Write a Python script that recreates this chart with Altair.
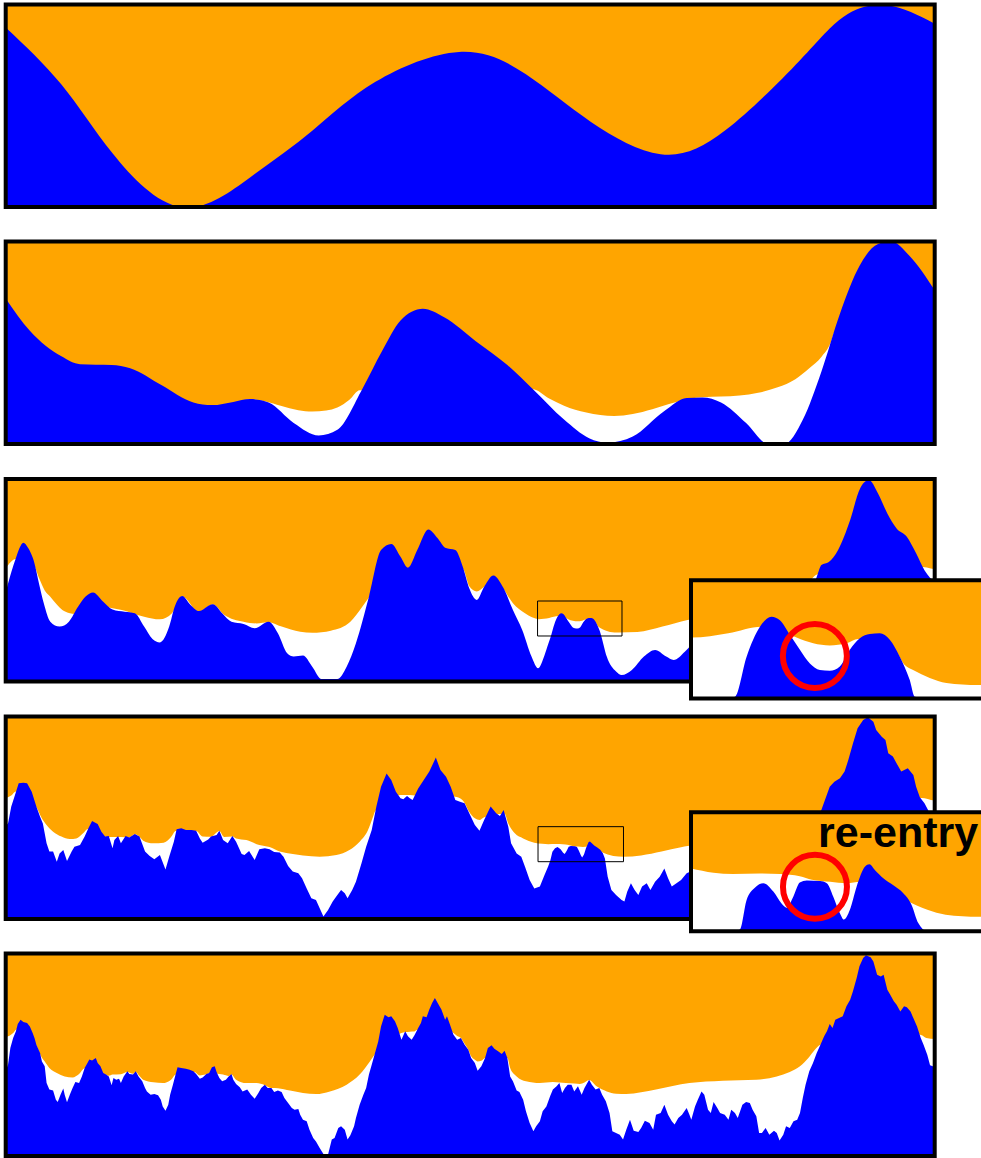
import altair as alt
import pandas as pd

# Five successive refinements of one terrain section.
# Each profile is (distance along section 0-100, elevation 0-100).
# "surface" is the terrain, "level" is the lower edge of the filled region above it.

surface_1 = [
    (0, 88.7), (6, 60.5), (11.5, 26.5), (18.8, -3), (26.3, 14.6), (33, 37.7), (39.8, 61.8), (48.8, 76.6),
    (56, 65.5), (63, 42), (70.5, 26.1), (77.5, 38), (85.5, 72.5), (90.2, 94), (94.9, 99.6), (100, 90.5),
]

surface_2 = [
    (0, 71.9), (2.6, 55.9), (6, 43.3), (8, 39.4), (11.4, 39), (13.4, 37.4), (16.8, 29), (20.2, 20.5),
    (22.2, 19.2), (24.5, 20.8), (26.3, 22.2), (28.3, 20.5), (31, 10.4), (33.7, 4.2), (35.7, 7),
    (38.4, 27.3), (40.5, 45.8), (42.5, 61), (44.9, 66.8), (47.2, 62.6), (50.6, 50.8), (54, 39),
    (56.7, 27.3), (60.1, 12.1), (62.8, 2.9), (64.8, 0.7), (67.5, 3.7), (70.9, 16.3), (73.3, 22.7),
    (75, 23), (77, 20.5), (79.7, 10.4), (82.1, 0), (83.8, 0), (85.8, 12), (87.8, 35.7), (89.8, 64.3),
    (91.9, 87.9), (93.9, 98.8), (95.3, 100), (97.3, 92.9), (100, 76),
]
level_2 = [
    (0, 60), (5, 40), (12, 32), (19, 17), (22.5, 17.5), (26.3, 22), (28, 21), (29.6, 18.9),
    (31.5, 16.7), (33, 16), (34.5, 16.5), (35.7, 18), (37, 21.8), (38.1, 26.5), (47, 27), (56.7, 27),
    (58.5, 22.5), (60.1, 18.9), (62.5, 15.5), (65.5, 13.8), (67.5, 14.8), (69.6, 17.2), (72, 20.5),
    (74.3, 22.8), (75, 23.1), (77, 23.4), (79, 23.9), (81, 25.3), (83.1, 28), (85, 32), (86.5, 37.4),
    (87.8, 43), (88.8, 50), (89.2, 55), (95, 60), (100, 70),
]

surface_3 = [
    (0, 44), (0.6, 54), (1.1, 61), (1.5, 66), (1.9, 68.5), (2.4, 66), (3.1, 58.3), (3.6, 48),
    (4.1, 38.6), (4.8, 29.5), (5.8, 27.1), (6.8, 29.5), (7.8, 37), (8.6, 42), (9.4, 44), (10.5, 39.4),
    (11.5, 35.6), (12.8, 34.5), (13.9, 33.7), (14.9, 27.1), (15.8, 21), (16.6, 19.3), (17.6, 27.1),
    (18.2, 37), (19.0, 42.2), (19.9, 37.8), (20.8, 34.8), (22.3, 38.1), (23.3, 33.7), (24.3, 29.5),
    (25.6, 28.4), (26.8, 26.3), (28.3, 29.5), (29.3, 23.8), (30.3, 13.9), (31, 12.3), (32, 12.8),
    (33, 7.3), (34, 1.2), (35.7, 1.2), (36.7, 7.3), (37.7, 18.9), (39.1, 41.9), (40.4, 64.9),
    (41.5, 67.9), (42.5, 61.6), (43.3, 56.2), (44.3, 64.9), (45.5, 75.1), (46.5, 70.7), (47.3, 66.1),
    (48.4, 64.9), (49.2, 56.7), (49.9, 46), (50.7, 40.3), (51.5, 46.8), (52.5, 52.4), (53.6, 46),
    (54.6, 35.3), (55.6, 25.4), (56.6, 12.3), (57.3, 6.5), (58.0, 13), (58.4, 18.5), (58.7, 22.6),
    (59.05, 28.15), (59.45, 32.3), (59.8, 33.7), (60.05, 33.2), (60.35, 31.2), (60.65, 29.1),
    (60.95, 27.2), (61.25, 26.3), (61.55, 26.2), (61.85, 26.8), (62.15, 29.1), (62.45, 30.7),
    (62.75, 31.3), (63.05, 31.4), (63.35, 30.5), (63.65, 28.15), (63.95, 24.9), (64.1, 22.6),
    (64.7, 12.3), (65.7, 4.9), (66.3, 3.2), (67.4, 5.7), (68.7, 12.3), (69.9, 15.6), (71.1, 12.3),
    (71.9, 10.6), (73.1, 14.7), (74.5, 22), (75.5, 27), (76.5, 22), (78, 17), (79.5, 24), (81, 13),
    (82.5, 10), (83.7, 8), (85, 17), (86, 32), (86.8, 45), (87.4, 53), (87.8, 57.5), (88.6, 59),
    (89.6, 65), (90.9, 79.8), (91.9, 94.6), (92.9, 99.5), (93.9, 92.9), (94.9, 83), (95.9, 75.6),
    (97, 71.5), (98, 63.3), (98.9, 55), (100, 49),
]
level_3 = [
    (0, 55.9), (1.1, 60.5), (3.0, 57.5), (3.6, 51), (4.2, 45), (4.8, 41.9), (5.5, 38), (6.1, 35.3),
    (6.8, 33.8), (7.5, 33.3), (8.3, 35.5), (9.0, 40), (9.4, 43.6), (10.8, 37), (12.5, 35.3),
    (14.9, 32), (16.6, 30.7), (17.9, 33.7), (19.0, 42), (20.8, 34.5), (22.3, 38), (23.5, 33),
    (25.6, 29.5), (27, 28.7), (28.3, 29.3), (29.7, 27.1), (31.7, 24.6), (33, 24.1), (35, 25.1),
    (37.1, 29.5), (38.4, 37), (39.1, 41.5), (43.3, 55.5), (49.2, 55.5), (49.9, 47), (50.7, 44.5),
    (51.5, 46.8), (52.5, 52), (53.6, 45.5), (54.6, 38.6), (55.9, 33.7), (57.4, 30.8), (58.5, 31.4),
    (59.5, 32.3), (60.3, 31.3), (60.55, 30.8), (61.05, 30.0), (61.55, 29.7), (62.05, 30.0),
    (62.4, 30.6), (63.5, 29.0), (63.8, 27.0), (64.05, 26.3), (64.55, 25.2), (65.05, 24.5),
    (66.0, 24.2), (68, 24.4), (70.7, 27.1), (73.4, 30.4), (76, 32), (79, 33.5), (82, 36), (84, 40),
    (85.5, 45), (86.6, 50), (87.4, 53), (98.3, 56.7), (100, 55.4),
]

surface_4 = [
    (0, 46), (0.25, 47.2), (0.6, 55.5), (1.0, 61.2), (1.4, 67), (1.9, 67.3), (2.3, 67), (2.8, 62.9),
    (3.3, 55.5), (3.7, 50.5), (4.0, 47.2), (4.4, 37.4), (4.7, 33.3), (5.1, 33.3), (5.5, 28.3),
    (5.8, 32.4), (6.2, 34.1), (6.6, 28.6), (7.1, 33.3), (7.4, 35.7), (8.0, 36.5), (8.5, 40.7),
    (8.9, 44.8), (9.3, 48.4), (9.9, 46.9), (10.3, 43.1), (10.7, 40.7), (11.1, 41), (11.5, 34.9),
    (11.7, 39), (12.1, 41), (12.4, 37.4), (12.9, 41), (13.3, 40.3), (13.9, 42), (14.4, 40.7),
    (15.0, 33.3), (15.5, 31.1), (16.0, 29.5), (16.6, 31.6), (17.2, 24.5), (17.6, 30.8), (18.1, 38.2),
    (18.4, 44.3), (18.9, 44.8), (19.4, 44), (20.0, 44), (20.5, 43.6), (20.9, 39.8), (21.2, 37.7),
    (21.8, 39.3), (22.1, 40.7), (22.7, 41.5), (23.0, 43.6), (23.4, 39), (23.9, 37.4), (24.4, 41),
    (24.8, 38.2), (25.4, 32.1), (25.7, 31.6), (26.2, 33.6), (26.8, 29.1), (27.3, 34.4), (27.9, 34.9),
    (28.4, 34.4), (28.9, 33.1), (29.5, 32.8), (29.9, 30.8), (30.4, 26.2), (30.9, 23.4), (31.5, 22.6),
    (31.9, 20.1), (32.4, 15.1), (32.9, 10.2), (33.4, 9.4), (33.8, 5.3), (34.2, 1.2), (34.7, 4.4),
    (35.2, 8.6), (35.7, 11.9), (36.1, 14.3), (36.5, 12.7), (36.8, 10.2), (37.3, 14.3), (37.7, 18.4),
    (38.3, 27.5), (38.8, 35.7), (39.4, 43.9), (39.9, 55.5), (40.4, 65.3), (41.0, 71.9), (41.5, 68.6),
    (42.0, 62.9), (42.5, 59.6), (42.8, 59.1), (43.2, 60.7), (43.5, 59.6), (43.8, 58.8), (44.4, 64.5),
    (45.0, 68.6), (45.6, 72.8), (46.3, 79.7), (46.8, 73.6), (47.4, 70.3), (47.9, 65.3), (48.4, 58.8),
    (48.9, 57.9), (49.4, 57.1), (49.9, 52.2), (50.5, 46.4), (51.0, 43.6), (51.5, 48.9), (52.2, 55.5),
    (52.8, 52.2), (53.2, 50.9), (53.6, 53.8), (54.1, 45.6), (54.4, 37.4), (55.0, 32.4), (55.5, 30.8),
    (55.9, 25.8), (56.4, 19.3), (56.9, 15.1), (57.5, 16), (58.0, 21.7), (58.4, 26), (58.63, 29),
    (58.85, 33.2), (59.13, 35.0), (59.4, 35.6), (59.73, 34.4), (60.0, 32.7), (60.17, 32.1),
    (60.39, 33.7), (60.6, 35.7), (60.83, 36.0), (61.27, 35.9), (61.49, 35.6), (61.7, 33.7),
    (61.92, 31.3), (62.05, 30.4), (62.25, 31.8), (62.47, 35.1), (62.75, 38.0), (62.89, 38.3),
    (63.07, 37.5), (63.35, 36.3), (63.68, 35.3), (64.0, 34.2), (64.28, 32.5), (64.5, 29.9),
    (64.8, 20.9), (65.2, 14.3), (65.7, 11.9), (66.3, 9.4), (66.6, 8.6), (66.9, 13.5), (67.3, 17.6),
    (67.7, 14.3), (68.1, 11.9), (68.5, 16), (69.0, 17.6), (69.4, 14.3), (69.9, 18.4), (70.4, 20.9),
    (70.9, 25), (71.3, 20.1), (71.7, 16), (72.2, 17.6), (72.7, 19.3), (73.3, 22.6), (74.2, 24.5),
    (74.9, 31), (75.6, 23), (76.2, 26), (77.4, 20), (78.1, 22), (79.5, 25), (80.4, 22), (81.1, 12),
    (82.2, 11), (83.3, 8), (84.4, 14), (85.5, 21), (86.5, 40), (87.3, 50), (87.8, 53.8), (88.7, 65.3),
    (89.2, 67.8), (89.8, 69.5), (90.3, 72.8), (90.7, 78.5), (91.2, 86.7), (91.7, 94.2), (92.3, 98.3),
    (92.8, 99.6), (93.4, 97.4), (93.7, 93.3), (94.3, 90), (94.7, 88.4), (95.0, 81.8), (95.5, 80.2),
    (96.0, 76), (96.4, 72.8), (97.1, 74.4), (97.7, 71.1), (98.0, 65.3), (98.4, 60.1), (98.9, 57.1),
    (99.5, 52), (100, 48),
]
level_4 = [
    (0, 59.6), (0.6, 61), (1.1, 63), (3.3, 55.3), (3.8, 50.5), (4.4, 46.4), (5.1, 43.1), (6.0, 40.7),
    (6.9, 39.5), (7.6, 39.8), (8.3, 42.2), (8.9, 44.6), (10.7, 40.6), (11.5, 40.5), (12.4, 40.5),
    (13.3, 40.3), (13.9, 41.8), (14.4, 40.6), (14.8, 38.7), (15.9, 37.4), (17.0, 37.7), (17.8, 40.5),
    (18.3, 43.5), (20.5, 43.4), (21.2, 40.7), (22.1, 40.6), (23.0, 43.4), (23.5, 40.5), (24.4, 40.8),
    (24.8, 39.8), (25.9, 39), (27.3, 36.5), (28.4, 35.5), (29.5, 33.3), (30.9, 32.1), (32.0, 31.3),
    (33.8, 30.8), (35.6, 31.6), (37.0, 34.1), (38.1, 38.2), (39.0, 43.9), (39.5, 50), (39.8, 53.5),
    (42.2, 61), (42.8, 61.2), (43.5, 61.2), (44.05, 61), (48.2, 60.5), (48.9, 59.6), (49.4, 57.3),
    (49.9, 52.8), (50.5, 49.7), (51.0, 48.9), (51.5, 50.3), (53.7, 52), (54.1, 47.2), (54.8, 42.3),
    (55.7, 39.8), (56.9, 37.7), (57.76, 37.1), (58.4, 36.9), (59.3, 37.0), (59.95, 36.9),
    (60.6, 36.6), (61.0, 36.1), (61.6, 35.8), (62.14, 35.6), (62.6, 35.8), (63.46, 35.1),
    (64.1, 33.2), (64.8, 31.8), (65.4, 31.1), (66.5, 30.8), (68.4, 31.4), (70.6, 33.3), (72.7, 35.4),
    (73.4, 36), (77, 37.5), (80.8, 38), (83, 40), (84.4, 42), (85.5, 45), (86.4, 48.5), (87.1, 51.5),
    (87.8, 53), (88.5, 58), (98.4, 59.8), (98.9, 59.6), (99.6, 58.8), (100, 58.5),
]

surface_5 = [
    (0, 42), (0.25, 45.1), (0.5, 53.3), (0.8, 58.3), (1.1, 61.6), (1.3, 65.2), (1.6, 67.3), (1.9, 66.2),
    (2.3, 65.7), (2.6, 64), (2.9, 60.7), (3.1, 58.3), (3.3, 55), (3.7, 50.9), (3.9, 46.7), (4.2, 44.3),
    (4.4, 36), (4.7, 32.8), (5.1, 32.3), (5.4, 27.8), (5.6, 26.7), (5.9, 30.3), (6.2, 33.3),
    (6.35, 30.3), (6.6, 26.5), (6.9, 30.3), (7.2, 33.6), (7.5, 36.5), (7.9, 36), (8.2, 39.3),
    (8.5, 43.5), (8.8, 45.9), (9.0, 47.6), (9.3, 47.1), (9.7, 48.4), (9.9, 45.9), (10.2, 44.3),
    (10.5, 41), (10.8, 40.2), (11.1, 39.3), (11.4, 34.9), (11.6, 38.5), (11.9, 37.7), (12.2, 38.2),
    (12.4, 36), (12.7, 39.3), (13.1, 41.8), (13.3, 40.5), (13.7, 40.2), (14.0, 41.8), (14.3, 39.3),
    (14.7, 36.9), (15.0, 33.6), (15.2, 31.9), (15.6, 30.3), (16.0, 30.6), (16.4, 30), (16.7, 27.8),
    (16.9, 24.5), (17.2, 22.4), (17.5, 25.3), (17.7, 30.3), (18.0, 35.2), (18.3, 40.5), (18.5, 43.8),
    (18.9, 43.5), (19.4, 43.1), (19.8, 42.6), (20.2, 41.8), (20.5, 40.5), (20.9, 38.2), (21.2, 38.8),
    (21.6, 40.5), (21.9, 41), (22.2, 43.8), (22.5, 44.3), (22.7, 41.5), (23.0, 38.5), (23.3, 36.9),
    (23.7, 37.7), (24.0, 39.3), (24.3, 40.5), (24.5, 37.7), (24.8, 35.6), (25.2, 33.9), (25.5, 31.9),
    (26.0, 32.8), (26.4, 30.3), (26.8, 28.3), (27.2, 31.1), (27.5, 33.6), (27.9, 35.2), (28.2, 33.6),
    (28.6, 33.6), (28.9, 31.6), (29.3, 32.3), (29.7, 31.6), (30.0, 28.6), (30.4, 26.2), (30.8, 23.7),
    (31.1, 22.9), (31.5, 23.2), (31.7, 20.4), (32.0, 17.9), (32.4, 17.1), (32.7, 13),
    (33.1, 8.9), (33.4, 7.2), (33.8, 4), (34.2, 1), (34.7, 0.7), (35.1, 8.1), (35.4, 8.9),
    (35.8, 13.8), (36.1, 14.7), (36.5, 13), (36.8, 8.1), (37.1, 10.2), (37.5, 14.7), (37.7, 18.8),
    (38.1, 25.3), (38.5, 30.3), (38.8, 33.6), (39.1, 40.2), (39.4, 45.1), (39.7, 50), (40.1, 56.6),
    (40.4, 64), (40.8, 69.8), (41.2, 68.5), (41.5, 69), (41.9, 66.5), (42.2, 63.2), (42.6, 57.4),
    (43.0, 61.6), (43.3, 59.1), (43.7, 57.4), (44.0, 59.6), (44.4, 63.2), (44.7, 65.7), (44.9, 69),
    (45.3, 68.5), (45.6, 72.3), (45.9, 75.6), (46.2, 78), (46.5, 75.6), (46.9, 72.3), (47.3, 67.3),
    (47.5, 69), (47.8, 65.2), (48.2, 59.9), (48.6, 57.4), (49.0, 58.3), (49.4, 55), (49.8, 52.5),
    (50.1, 48.4), (50.5, 45.9), (50.8, 42.1), (51.2, 44.3), (51.6, 48.4), (51.9, 53.3), (52.3, 54.7),
    (52.6, 53), (53.0, 51.7), (53.4, 50.4), (53.7, 52), (54.0, 48.4), (54.3, 39.3), (54.6, 36.9),
    (55.0, 32.3), (55.3, 31.6), (55.7, 27.8), (56.0, 22.1), (56.4, 16.3), (56.8, 12.2), (57.1, 14.7),
    (57.5, 17.1), (57.8, 22.1), (58.2, 24.5), (58.6, 29.5), (58.9, 32.8), (59.3, 34.4), (59.6, 36),
    (59.9, 31.1), (60.2, 33.6), (60.5, 35.2), (60.9, 35.2), (61.2, 31.9), (61.6, 34.4), (62.0, 30.3),
    (62.3, 33.6), (62.8, 37.7), (63.1, 35.2), (63.5, 32.8), (63.9, 33.6), (64.2, 30.3), (64.6, 27),
    (65.0, 21.2), (65.3, 12.2), (65.7, 11.4), (66.1, 10.5),
    (66.45, 8.1), (66.8, 13), (67.2, 17.9), (67.6, 12.5), (68.1, 11.9), (68.4, 13.8), (68.8, 17.4),
    (69.3, 16.3), (69.7, 13), (70.0, 20.4), (70.5, 21.2), (70.9, 25.3), (71.3, 20.4), (71.7, 17.1),
    (72.0, 15.5), (72.4, 18.8), (72.8, 20.4), (73.3, 23.7), (73.6, 20.4), (73.8, 17.9), (74.2, 24.5),
    (74.5, 27.8), (74.9, 31.9), (75.2, 30.3), (75.6, 22.9), (75.9, 21.2), (76.2, 26.7), (76.6, 23.7),
    (76.9, 21.2), (77.4, 20.4), (77.8, 17.9), (78.1, 22.9), (78.5, 21.2), (78.8, 18.8), (79.3, 25.3),
    (79.7, 26.7), (80.1, 26.2), (80.4, 22.9), (80.8, 19.6), (81.1, 11.4), (81.4, 11.4), (81.8, 13.8),
    (82.2, 10.5), (82.7, 12.5), (83.0, 11.4), (83.3, 7.6), (83.7, 10.5), (84.0, 14.7), (84.4, 13.8),
    (84.8, 17.1), (85.2, 17.9), (85.5, 21.2), (85.8, 28.6), (86.1, 35.2), (86.5, 41.8), (86.9, 45.9),
    (87.3, 50.9), (87.7, 55), (88.1, 59.1), (88.4, 61.6), (88.7, 65.2), (89.0, 63.2), (89.3, 67.3),
    (89.7, 68.1), (90.1, 69), (90.5, 73.9), (90.9, 77.2), (91.2, 81.3), (91.6, 87.9), (91.9, 93.7),
    (92.3, 97.8), (92.6, 99.1), (93.1, 98.1), (93.4, 96.1), (93.8, 89.5), (94.2, 88.7), (94.5, 89.5),
    (94.9, 82.1), (95.2, 79.7), (95.6, 76.4), (95.9, 74.7), (96.3, 71.4), (96.7, 73.9), (97.0, 73.4),
    (97.4, 71.4), (97.7, 68.1), (98.1, 64), (98.5, 58.3), (98.8, 55), (99.2, 50), (99.5, 44.8),
    (100, 44),
]
level_5 = [
    (0, 58.6), (0.8, 60.7), (1.15, 62.5), (3.3, 54.5), (3.5, 52.5), (3.9, 48.5), (4.2, 46.7),
    (4.7, 43.5), (5.5, 41), (6.35, 39.3), (7.2, 38.8), (7.9, 40.5), (8.5, 43.3), (10.5, 40.5),
    (11.1, 39.6), (11.5, 40.2), (12.4, 40.4), (13.1, 41.5), (13.7, 40.6), (14.0, 41.5), (14.4, 39.5),
    (14.8, 37.7), (15.9, 36.4), (16.9, 36), (17.8, 37.7), (18.3, 40.3), (20.3, 41.5), (20.9, 39.8),
    (21.5, 40.2), (22.0, 41), (23.0, 40.5), (23.4, 40.2), (24.0, 39.5), (24.3, 40.3), (24.8, 37.7),
    (25.9, 36), (27.0, 36), (27.9, 35), (28.6, 33.6), (29.3, 33.5), (30.6, 32.3), (32, 31.1),
    (33.4, 30.6), (34.9, 31.9), (36.7, 35.2), (38.1, 40.2), (39.2, 46.7), (39.7, 50), (42.2, 60),
    (42.6, 60.7), (43.0, 61.2), (43.5, 61.4), (44.0, 61.5), (44.3, 62.3), (47.8, 62), (48.2, 60.7),
    (48.6, 59.2), (49.0, 58.3), (49.4, 55.4), (49.8, 52.5), (50.1, 49.2), (50.5, 47.5), (50.8, 46.7),
    (51.2, 47), (51.6, 48.4), (54.0, 48.4), (54.3, 43.5), (55, 39.3), (56, 36.9), (57.5, 36),
    (58.9, 36.5), (59.6, 36.3), (60.3, 36), (61.2, 35.8), (61.8, 35.6), (62.3, 36.3), (62.8, 37.5),
    (63.6, 34.4), (64.7, 31.9), (65.7, 30.8), (66.8, 30.6), (70, 32.8), (73.6, 36), (77.2, 37.2),
    (80.8, 37.7), (83, 39.3), (84.4, 41.5), (85.5, 44.3), (86.4, 48.4), (87.1, 52.5), (87.7, 55),
    (98.3, 60), (98.6, 59.6), (99.1, 58.3), (100, 57.8),
]

# zoom windows (distance range, elevation range) and the spots they highlight
zoom_3 = {"x": [57.38, 66.66], "h": [22.34, 38.76], "marker_x": [57.25, 66.34], "marker_h": [22.47, 39.75]}
zoom_4 = {"x": [57.02, 67.19], "h": [28.73, 45.73], "marker_x": [57.3, 66.5], "marker_h": [28.3, 45.6]}
spot_3 = (61.1, 28.24)
spot_4 = (61.1, 35.1)
note_4 = (66.47, 40.81, "re-entry")

BLUE = "#0000ff"
ORANGE = "#ffa500"
RED = "#ff0000"

FRAME_X = [5.7, 934.7]
PANEL_Y = [[207.0, 4.5], [444.0, 241.5], [681.5, 479.0], [919.0, 716.5], [1156.0, 953.5]]
INSET_X = [691.0, 1000.0]
INSET_Y = {3: [698.5, 580.3], 4: [931.3, 812.3]}


def frame(pairs):
    return pd.DataFrame(pairs, columns=["x", "h"])


def window(df, lo, hi):
    inside = df[(df.x >= lo) & (df.x <= hi)]
    return pd.concat([df[df.x < lo].tail(1), inside, df[df.x > hi].head(1)])


def scale(domain, rng):
    return alt.Scale(domain=domain, range=rng, clamp=True, nice=False, zero=False)


def box(sx, sy, xd, yd, **mark):
    corners = pd.DataFrame({"x0": [xd[0]], "x1": [xd[1]], "y0": [yd[0]], "y1": [yd[1]]})
    return alt.Chart(corners).mark_rect(**mark).encode(
        x=alt.X("x0:Q", scale=sx, axis=None), x2="x1:Q",
        y=alt.Y("y0:Q", scale=sy, axis=None), y2="y1:Q",
    )


def area(df, sx, sy, base, color, interp):
    return alt.Chart(df.assign(base=base)).mark_area(color=color, interpolate=interp).encode(
        x=alt.X("x:Q", scale=sx, axis=None),
        y=alt.Y("h:Q", scale=sy, axis=None),
        y2="base:Q",
    )


def section(ground, level, xd, yd, xr, yr, interp, stroke_w):
    sx, sy = scale(xd, xr), scale(yd, yr)
    parts = [box(sx, sy, xd, yd, color=ORANGE)]
    if level is not None:
        parts.append(area(level, sx, sy, yd[0], "#ffffff", "monotone"))
    parts.append(area(ground, sx, sy, yd[0], BLUE, interp))
    parts.append(box(sx, sy, xd, yd, filled=False, color="black", strokeWidth=stroke_w))
    return parts, sx, sy


def ring(sx, sy, spot):
    return alt.Chart(pd.DataFrame({"x": [spot[0]], "h": [spot[1]]})).mark_point(
        shape="circle", size=4096, filled=False, color=RED, strokeWidth=6, opacity=1
    ).encode(x=alt.X("x:Q", scale=sx, axis=None), y=alt.Y("h:Q", scale=sy, axis=None))


panels = [
    (frame(surface_1), None, "natural"),
    (frame(surface_2), frame(level_2), "monotone"),
    (frame(surface_3), frame(level_3), "monotone"),
    (frame(surface_4), frame(level_4), "linear"),
    (frame(surface_5), frame(level_5), "linear"),
]
zooms = {2: (zoom_3, spot_3, None), 3: (zoom_4, spot_4, note_4)}

layers = []
for i, (ground, level, interp) in enumerate(panels):
    parts, sx, sy = section(ground, level, [0, 100], [0, 100], FRAME_X, PANEL_Y[i], interp, 4)
    layers += parts
    if i in zooms:
        z, spot, note = zooms[i]
        layers.append(box(sx, sy, z["marker_x"], z["marker_h"], filled=False, color="black", strokeWidth=1))
        g = window(ground, *z["x"])
        lv = window(level, *z["x"])
        iparts, isx, isy = section(g, lv, z["x"], z["h"], INSET_X, INSET_Y[i + 1], "monotone", 4)
        layers += iparts
        layers.append(ring(isx, isy, spot))
        if note is not None:
            layers.append(
                alt.Chart(pd.DataFrame({"x": [note[0]], "h": [note[1]], "label": [note[2]]}))
                .mark_text(font="Liberation Sans", fontWeight="bold", fontSize=43,
                           align="right", baseline="alphabetic", color="black")
                .encode(x=alt.X("x:Q", scale=isx, axis=None), y=alt.Y("h:Q", scale=isy, axis=None),
                        text="label:N")
            )

chart = (
    alt.layer(*layers)
    .resolve_scale(x="independent", y="independent")
    .properties(width=981, height=1158, autosize=alt.AutoSizeParams(type="none"), padding=0)
    .configure_view(stroke=None)
)

chart.save("out.html", embed_options={"renderer": "svg", "actions": False})
